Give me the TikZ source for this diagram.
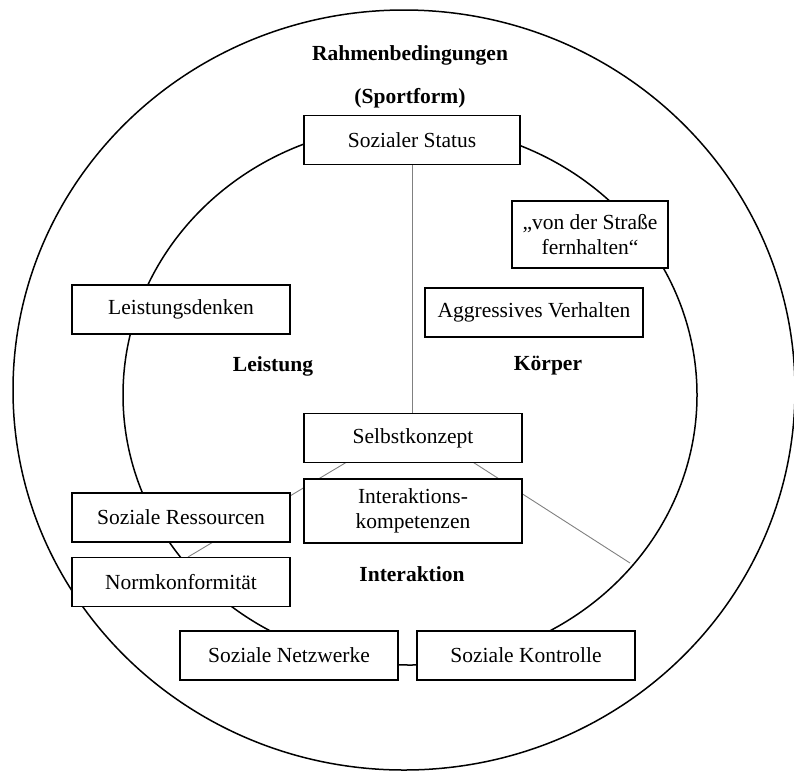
\documentclass[tikz,border=0pt]{standalone}
\usepackage{fontspec}
\setmainfont{Liberation Serif}
\usetikzlibrary{positioning, backgrounds}

\begin{document}
\begin{tikzpicture}[
  x=1pt, y=-1pt,
  every node/.style={font=\fontsize{21.5}{25}\selectfont, align=center},
  field/.style={rectangle, draw, line width=1.4pt, fill=white,
                inner sep=2pt, minimum width=218pt, minimum height=49pt},
  area/.style={font=\fontsize{21.5}{25}\selectfont\bfseries},
  ring/.style={draw, line width=1.5pt},
  ray/.style={draw=gray, line width=0.9pt}
]
\useasboundingbox (0,0) rectangle (794,772);

\node[area] (rahmen) at (410,55) {Rahmenbedingungen};
\node[area] (sportform) at (410,98) {(Sportform)};

\node[field, minimum width=216pt] (status) at (412,140) {Sozialer Status};
\node[field, minimum width=156pt, minimum height=67pt] (strasse) at (590,234.5) {„von der Straße\\fernhalten“};
\node[field] (aggressiv) at (534,312.5) {Aggressives Verhalten};
\node[field] (denken) at (181,309.5) {Leistungsdenken};

\node[area] (leistung) at (273,366) {Leistung};
\node[area] (koerper) at (548,366) {Körper};

\node[field] (selbst) at (413,438) {Selbstkonzept};
\node[field, minimum height=64pt] (kompetenz) at (413,511) {Interaktions-\\kompetenzen};
\node[field] (ressourcen) at (181,517.5) {Soziale Ressourcen};
\node[field] (norm) at (181,582) {Normkonformität};

\node[area] (interaktion) at (412,574) {Interaktion};

\node[field] (netzwerke) at (289,655.5) {Soziale Netzwerke};
\node[field] (kontrolle) at (526,655.5) {Soziale Kontrolle};

% circles and dividing lines behind the boxes
\begin{scope}[on background layer]
  \draw[ring] (404,390) ellipse [x radius=391, y radius=380];
  \draw[ring] (410,395) ellipse [x radius=287, y radius=270];
  \coordinate (hub) at (412,423);
  \coordinate (leftend) at (188,557);
  \coordinate (rightend) at (630,563);
  \draw[ray] (hub) -- (status);
  \draw[ray] (hub) -- (leftend);
  \draw[ray] (hub) -- (rightend);
\end{scope}
\end{tikzpicture}
\end{document}
